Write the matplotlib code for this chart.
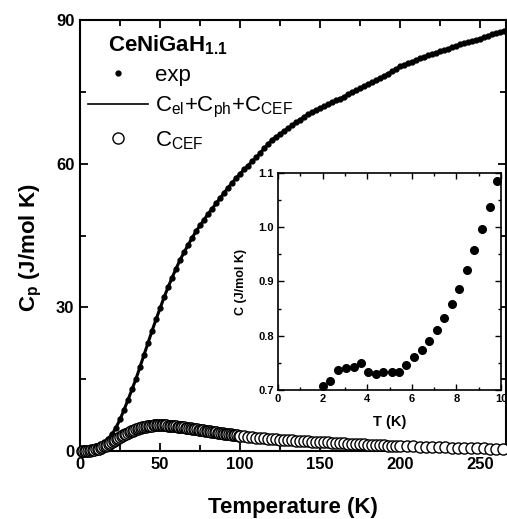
import numpy as np
import matplotlib
matplotlib.use("Agg")
import matplotlib.pyplot as plt
from matplotlib.ticker import MultipleLocator

plt.rcParams['font.family'] = ['Liberation Sans', 'DejaVu Sans']
plt.rcParams['mathtext.fontset'] = 'custom'
plt.rcParams['mathtext.rm'] = 'Liberation Sans'
plt.rcParams['mathtext.bf'] = 'Liberation Sans:bold'

# measured specific heat, 2.5 K steps from 2.5 K to 265 K
exp_T = np.arange(2.5, 265.1, 2.5)
exp_C = [0.2, 0.4, 0.7, 1.0, 1.4, 1.9, 2.6, 3.5, 4.9, 6.6,
         8.6, 10.7, 12.9, 15.1, 17.6, 20.1, 22.6, 25.1, 27.5, 29.8,
         32.1, 34.2, 36.2, 38.1, 39.9, 41.5, 43.0, 44.5, 45.9, 47.1,
         48.3, 49.5, 50.6, 51.7, 52.8, 53.9, 55.0, 56.0, 57.0, 57.9,
         58.8, 59.6, 60.5, 61.3, 62.2, 63.2, 64.1, 65.0, 65.6, 66.2,
         66.8, 67.4, 68.0, 68.6, 69.2, 69.8, 70.3, 70.7, 71.2, 71.6,
         72.0, 72.4, 72.8, 73.2, 73.6, 74.0, 74.5, 74.9, 75.3, 75.7,
         76.2, 76.6, 77.0, 77.4, 77.9, 78.3, 78.8, 79.3, 79.8, 80.3,
         80.7, 81.0, 81.3, 81.6, 82.0, 82.3, 82.6, 82.9, 83.2, 83.5,
         83.7, 84.0, 84.3, 84.6, 84.9, 85.1, 85.4, 85.6, 85.9, 86.1,
         86.4, 86.7, 87.0, 87.2, 87.5, 87.8]

# crystal field contribution: 1 K steps to 100 K, 2.5 K to 200 K, 4 K above
cef_T = np.concatenate([np.arange(1, 101, 1), np.arange(102.5, 200.1, 2.5),
                        np.arange(204, 265, 4)])
cef_C = [0.0, 0.0, 0.01, 0.02, 0.04, 0.07, 0.11, 0.17, 0.24, 0.32,
         0.41, 0.52, 0.65, 0.8, 0.95, 1.12, 1.3, 1.5, 1.7, 1.9,
         2.1, 2.3, 2.51, 2.72, 2.91, 3.1, 3.29, 3.47, 3.65, 3.82,
         3.97, 4.12, 4.26, 4.4, 4.53, 4.65, 4.76, 4.86, 4.95, 5.04,
         5.11, 5.18, 5.23, 5.28, 5.32, 5.35, 5.37, 5.39, 5.4, 5.4,
         5.39, 5.38, 5.36, 5.34, 5.31, 5.28, 5.24, 5.2, 5.16, 5.12,
         5.08, 5.04, 5.0, 4.95, 4.91, 4.86, 4.81, 4.76, 4.71, 4.66,
         4.61, 4.56, 4.51, 4.46, 4.41, 4.36, 4.3, 4.25, 4.2, 4.15,
         4.09, 4.04, 3.99, 3.94, 3.89, 3.84, 3.79, 3.74, 3.69, 3.64,
         3.59, 3.54, 3.5, 3.45, 3.4, 3.36, 3.31, 3.27, 3.22, 3.18,
         3.08, 2.98, 2.9, 2.81, 2.73, 2.66, 2.59, 2.52, 2.45, 2.39,
         2.33, 2.27, 2.21, 2.16, 2.11, 2.06, 2.01, 1.97, 1.93, 1.89,
         1.84, 1.79, 1.74, 1.69, 1.64, 1.59, 1.54, 1.5, 1.45, 1.41,
         1.37, 1.33, 1.29, 1.25, 1.21, 1.17, 1.13, 1.09, 1.05, 1.02,
         0.98, 0.94, 0.9, 0.86, 0.82, 0.78, 0.74, 0.71, 0.67, 0.64,
         0.6, 0.57, 0.54, 0.51, 0.48, 0.45]

# low temperature inset
low_T = [2.0, 2.34, 2.7, 3.04, 3.39, 3.73, 4.04, 4.40, 4.73, 5.09,
         5.43, 5.75, 6.10, 6.45, 6.78, 7.12, 7.46, 7.79, 8.12, 8.46,
         8.81, 9.15, 9.49, 9.81]
low_C = [0.708, 0.717, 0.736, 0.740, 0.742, 0.749, 0.733, 0.730, 0.733, 0.733,
         0.734, 0.746, 0.760, 0.773, 0.790, 0.810, 0.832, 0.859, 0.887, 0.921,
         0.958, 0.996, 1.037, 1.085]

fig = plt.figure(figsize=(5.07, 5.19), dpi=100)
ax = fig.add_axes([80 / 507, 68 / 519, 426 / 507, 431 / 519])

fit_line, = ax.plot(exp_T, exp_C, color='k', lw=2.2, zorder=2,
                    label=r'$\mathregular{C_{el}{+}C_{ph}{+}C_{CEF}}$')
exp_pts, = ax.plot(exp_T, exp_C, ls='none', marker='o', ms=3.5, color='k', zorder=3,
                   label='exp')
cef_pts, = ax.plot(cef_T, cef_C, ls='none', marker='o', ms=8, mfc='white',
                   mec='k', mew=1.0, zorder=4, clip_on=False,
                   label=r'$\mathregular{C_{CEF}}$')

ax.set_xlim(0, 266)
ax.set_ylim(0, 90)
ax.xaxis.set_major_locator(MultipleLocator(50))
ax.xaxis.set_minor_locator(MultipleLocator(25))
ax.yaxis.set_major_locator(MultipleLocator(30))
ax.yaxis.set_minor_locator(MultipleLocator(15))
ax.tick_params(which='both', direction='in', top=True, right=True, width=1.3)
ax.tick_params(which='major', length=6, labelsize=12, pad=4)
ax.tick_params(which='minor', length=4)
for lab in ax.get_xticklabels() + ax.get_yticklabels():
    lab.set_fontweight('bold')
for sp in ax.spines.values():
    sp.set_linewidth(1.5)

ax.set_xlabel('Temperature (K)', fontsize=16, fontweight='bold', labelpad=18)
ax.set_ylabel(r'$\mathbf{C_p}$ (J/mol K)', fontsize=16, fontweight='bold')
ax.yaxis.set_label_coords(-0.085, 0.471)

ax.text(0.066, 0.928, r'$\mathbf{CeNiGaH_{1.1}}$', transform=ax.transAxes,
        fontsize=16, va='baseline', ha='left')
leg = ax.legend(handles=[exp_pts, fit_line, cef_pts], loc='upper left',
                bbox_to_anchor=(0.019, 0.895), frameon=False, fontsize=16,
                handlelength=2.7, handletextpad=0.3, labelspacing=0.4,
                borderpad=0, borderaxespad=0)
leg.legend_handles[1].set_linewidth(1.2)

# inset
ins = fig.add_axes([278 / 507, 129 / 519, 223 / 507, 217 / 519])
ins.plot(low_T, low_C, ls='none', marker='o', ms=5.5, color='k')
ins.set_xlim(0, 10)
ins.set_ylim(0.7, 1.1)
ins.xaxis.set_major_locator(MultipleLocator(2))
ins.xaxis.set_minor_locator(MultipleLocator(1))
ins.yaxis.set_major_locator(MultipleLocator(0.1))
ins.yaxis.set_minor_locator(MultipleLocator(0.05))
ins.tick_params(which='both', direction='in', top=True, right=True, width=1.0)
ins.tick_params(which='major', length=4, labelsize=8, pad=3)
ins.tick_params(which='minor', length=2.5)
for lab in ins.get_xticklabels() + ins.get_yticklabels():
    lab.set_fontweight('bold')
for sp in ins.spines.values():
    sp.set_linewidth(1.2)
ins.set_xlabel('T (K)', fontsize=10.5, fontweight='bold', labelpad=8)
ins.set_ylabel('C (J/mol K)', fontsize=9, fontweight='bold', labelpad=8)

fig.savefig('out.png', dpi=100)
